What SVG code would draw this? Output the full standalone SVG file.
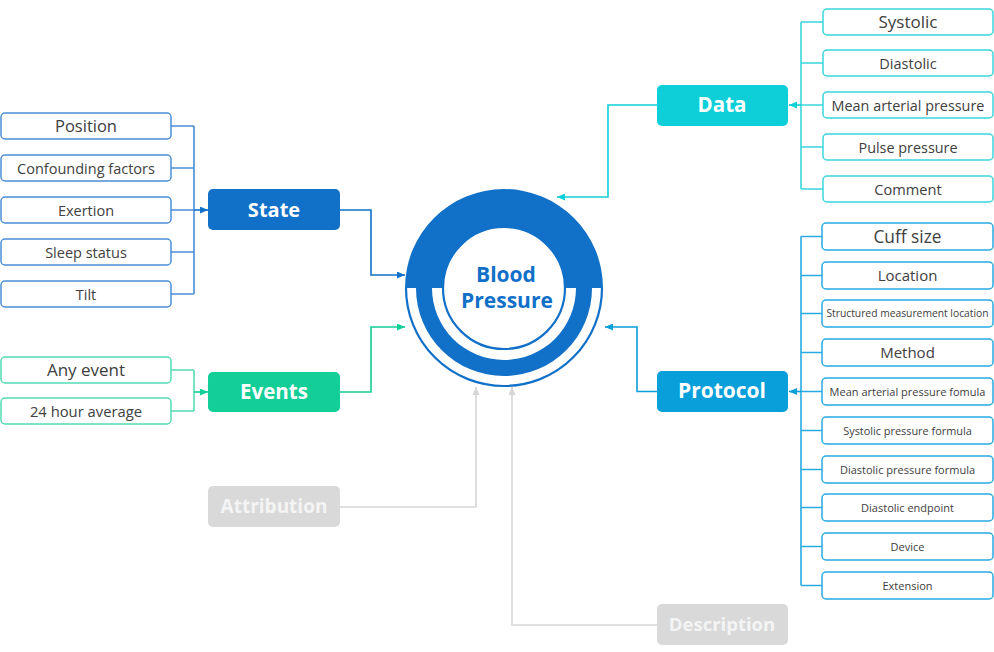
<svg xmlns="http://www.w3.org/2000/svg" width="994" height="652" viewBox="0 0 994 652">
<defs>
<style>
.t{font-family:"Open Sans","Noto Sans",sans-serif;fill:#404040;text-anchor:middle}
.h{font-family:"Open Sans","Noto Sans",sans-serif;font-weight:bold;fill:#fff;text-anchor:middle}
.hg{font-family:"Open Sans","Noto Sans",sans-serif;font-weight:bold;fill:#F4F4F4;text-anchor:middle}
.cs{fill:#fff;stroke:#4A8ED6;stroke-width:1.5}
.ce{fill:#fff;stroke:#55DCB5;stroke-width:1.5}
.cd{fill:#fff;stroke:#3AD5DE;stroke-width:1.5}
.cp{fill:#fff;stroke:#28ABE2;stroke-width:1.5}
.l{fill:none;stroke-width:1.6}
</style>
<marker id="ms" markerUnits="userSpaceOnUse" markerWidth="8" markerHeight="7" refX="8" refY="3.5" orient="auto"><path d="M0,0 L8,3.5 L0,7 z" fill="#1170C8"/></marker>
<marker id="me" markerUnits="userSpaceOnUse" markerWidth="8" markerHeight="7" refX="8" refY="3.5" orient="auto"><path d="M0,0 L8,3.5 L0,7 z" fill="#13CE97"/></marker>
<marker id="md" markerUnits="userSpaceOnUse" markerWidth="8" markerHeight="7" refX="8" refY="3.5" orient="auto"><path d="M0,0 L8,3.5 L0,7 z" fill="#0ECFD8"/></marker>
<marker id="mp" markerUnits="userSpaceOnUse" markerWidth="8" markerHeight="7" refX="8" refY="3.5" orient="auto"><path d="M0,0 L8,3.5 L0,7 z" fill="#089FDA"/></marker>
<marker id="mg" markerUnits="userSpaceOnUse" markerWidth="8" markerHeight="7" refX="8" refY="3.5" orient="auto"><path d="M0,0 L8,3.5 L0,7 z" fill="#D6D6D6"/></marker>
</defs>
<rect width="994" height="652" fill="#fff"/>

<g id="connectors">
  <!-- State bracket -->
  <path class="l" stroke="#4A8ED6" d="M171 126 H194 M171 168 H194 M171 252 H194 M171 294 H194 M194 126 V294 M171 210 H194"/>
  <path class="l" stroke="#1170C8" d="M194 210 H208" marker-end="url(#ms)"/>
  <!-- Events bracket -->
  <path class="l" stroke="#55DCB5" d="M171 370 H194 M171 411 H194 M194 370 V411"/>
  <path class="l" stroke="#13CE97" d="M194 392 H208" marker-end="url(#me)"/>
  <!-- Data bracket -->
  <path class="l" stroke="#3AD5DE" d="M801 22 H823 M801 63 H823 M801 105 H823 M801 147 H823 M801 189 H823 M801 22 V189"/>
  <path class="l" stroke="#0ECFD8" d="M801 105 H789" marker-end="url(#md)"/>
  <!-- Protocol bracket -->
  <path class="l" stroke="#28ABE2" d="M801 236.5 H822 M801 275.5 H822 M801 313.5 H822 M801 352.5 H822 M801 391.5 H822 M801 430.5 H822 M801 469.5 H822 M801 507.5 H822 M801 546.5 H822 M801 585.5 H822 M801 236.5 V585.5"/>
  <path class="l" stroke="#089FDA" d="M801 391.5 H789" marker-end="url(#mp)"/>
  <!-- to center -->
  <path class="l" stroke="#1170C8" d="M340 210 H371 V275 H405" marker-end="url(#ms)"/>
  <path class="l" stroke="#13CE97" d="M340 392 H371 V327 H405" marker-end="url(#me)"/>
  <path class="l" stroke="#D6D6D6" d="M340 507 H476 V387" marker-end="url(#mg)"/>
  <path class="l" stroke="#D6D6D6" d="M657 625 H512 V387" marker-end="url(#mg)"/>
  <path class="l" stroke="#0ECFD8" d="M657 105 H608 V197 H557" marker-end="url(#md)"/>
  <path class="l" stroke="#089FDA" d="M657 391.5 H637 V327 H605" marker-end="url(#mp)"/>
</g>

<g id="center">
  <path d="M405 288 A99 99 0 0 1 603 288 L565 288 A61 61 0 0 0 443 288 Z" fill="#1170C8"/>
  <path d="M406 288 A98 98 0 0 0 602 288" fill="none" stroke="#1170C8" stroke-width="2.2"/>
  <path d="M416 288 A88 88 0 0 0 592 288 L576 288 A72 72 0 0 1 432 288 Z" fill="#1170C8"/>
  <circle cx="504" cy="288" r="61" fill="#fff" stroke="#1170C8" stroke-width="2.2"/>
  <text class="h" x="506" y="282" font-size="21" style="fill:#1170C8">Blood</text>
  <text class="h" x="507" y="308" font-size="21" style="fill:#1170C8">Pressure</text>
</g>

<g id="state">
  <rect x="208" y="189" width="132" height="41" rx="5" fill="#1170C8"/>
  <text class="h" x="274" y="217" font-size="20">State</text>
</g>
<g id="events">
  <rect x="208" y="372" width="132" height="40" rx="5" fill="#13CE97"/>
  <text class="h" x="274" y="399" font-size="20.5">Events</text>
</g>
<g id="attribution">
  <rect x="208" y="486" width="132" height="41" rx="5" fill="#D9D9D9"/>
  <text class="hg" x="274" y="513" font-size="19">Attribution</text>
</g>
<g id="description">
  <rect x="657" y="604" width="131" height="41" rx="5" fill="#D9D9D9"/>
  <text class="hg" x="722" y="631" font-size="18.5">Description</text>
</g>
<g id="data">
  <rect x="657" y="85" width="131" height="41" rx="5" fill="#0ECFD8"/>
  <text class="h" x="722" y="112" font-size="20.5">Data</text>
</g>
<g id="protocol">
  <rect x="657" y="371" width="131" height="41" rx="5" fill="#089FDA"/>
  <text class="h" x="722" y="398" font-size="21">Protocol</text>
</g>

<g id="state-children">
  <g id="position"><rect class="cs" x="1" y="113" width="170" height="26" rx="4"/><text class="t" x="86" y="132" font-size="16.5">Position</text></g>
  <g id="confounding"><rect class="cs" x="1" y="155" width="170" height="26" rx="4"/><text class="t" x="86" y="173.5" font-size="14.5">Confounding factors</text></g>
  <g id="exertion"><rect class="cs" x="1" y="197" width="170" height="26" rx="4"/><text class="t" x="86" y="215.5" font-size="14.5">Exertion</text></g>
  <g id="sleep"><rect class="cs" x="1" y="239" width="170" height="26" rx="4"/><text class="t" x="86" y="257.5" font-size="14.5">Sleep status</text></g>
  <g id="tilt"><rect class="cs" x="1" y="281" width="170" height="26" rx="4"/><text class="t" x="86" y="299.5" font-size="14.5">Tilt</text></g>
</g>
<g id="events-children">
  <g id="anyevent"><rect class="ce" x="1" y="357" width="170" height="26" rx="4"/><text class="t" x="86" y="376" font-size="17">Any event</text></g>
  <g id="avg24"><rect class="ce" x="1" y="398" width="170" height="26" rx="4"/><text class="t" x="86" y="416.5" font-size="14.8">24 hour average</text></g>
</g>
<g id="data-children">
  <g id="systolic"><rect class="cd" x="823" y="9" width="170" height="26" rx="4"/><text class="t" x="908" y="28" font-size="17">Systolic</text></g>
  <g id="diastolic"><rect class="cd" x="823" y="50" width="170" height="26" rx="4"/><text class="t" x="908" y="68.5" font-size="14.5">Diastolic</text></g>
  <g id="map"><rect class="cd" x="823" y="92" width="170" height="26" rx="4"/><text class="t" x="908" y="110.5" font-size="14.4">Mean arterial pressure</text></g>
  <g id="pulse"><rect class="cd" x="823" y="134" width="170" height="26" rx="4"/><text class="t" x="908" y="152.5" font-size="14.4">Pulse pressure</text></g>
  <g id="comment"><rect class="cd" x="823" y="176" width="170" height="26" rx="4"/><text class="t" x="908" y="194.5" font-size="14.6">Comment</text></g>
</g>
<g id="protocol-children">
  <g id="cuff"><rect class="cp" x="822" y="223" width="171" height="27" rx="4"/><text class="t" x="907.5" y="243" font-size="17.3">Cuff size</text></g>
  <g id="location"><rect class="cp" x="822" y="262" width="171" height="27" rx="4"/><text class="t" x="907.5" y="281" font-size="15">Location</text></g>
  <g id="structured"><rect class="cp" x="822" y="300" width="171" height="27" rx="4"/><text class="t" x="907.5" y="317.3" font-size="10.3">Structured measurement location</text></g>
  <g id="method"><rect class="cp" x="822" y="339" width="171" height="27" rx="4"/><text class="t" x="907.5" y="358" font-size="15">Method</text></g>
  <g id="mapformula"><rect class="cp" x="822" y="378" width="171" height="27" rx="4"/><text class="t" x="907.5" y="395.5" font-size="11">Mean arterial pressure fomula</text></g>
  <g id="sysformula"><rect class="cp" x="822" y="417" width="171" height="27" rx="4"/><text class="t" x="907.5" y="434.5" font-size="10.9">Systolic pressure formula</text></g>
  <g id="diaformula"><rect class="cp" x="822" y="456" width="171" height="27" rx="4"/><text class="t" x="907.5" y="473.5" font-size="11">Diastolic pressure formula</text></g>
  <g id="endpoint"><rect class="cp" x="822" y="494" width="171" height="27" rx="4"/><text class="t" x="907.5" y="511.5" font-size="11">Diastolic endpoint</text></g>
  <g id="device"><rect class="cp" x="822" y="533" width="171" height="27" rx="4"/><text class="t" x="907.5" y="550.5" font-size="11">Device</text></g>
  <g id="extension"><rect class="cp" x="822" y="572" width="171" height="27" rx="4"/><text class="t" x="907.5" y="589.5" font-size="11">Extension</text></g>
</g>
</svg>
